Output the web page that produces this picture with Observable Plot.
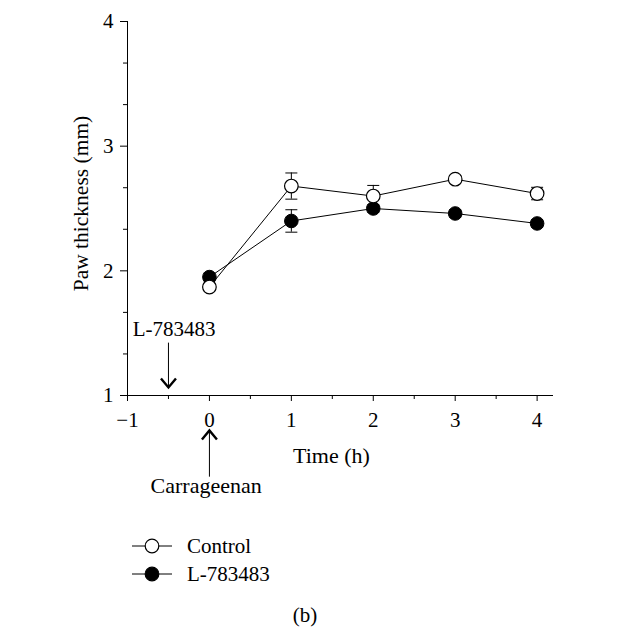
<!DOCTYPE html>
<html>
<head>
<meta charset="utf-8">
<script src="https://cdn.jsdelivr.net/npm/d3@7"></script>
<script src="https://cdn.jsdelivr.net/npm/@observablehq/plot@0.6"></script>
<style>
  html, body { margin: 0; padding: 0; background: #fff; }
  #wrap { position: relative; width: 619px; height: 641px; overflow: hidden; font-family: "Liberation Serif", "Times New Roman", serif; }
  #legend { position: absolute; left: 0; top: 520px; }
</style>
</head>
<body>
<div id="wrap"><div id="chart"></div><div id="legend"></div></div>
<script>
// ---- data ----
const hours = [0, 1, 2, 3, 4];
const controlMean = [1.87, 2.68, 2.60, 2.735, 2.62];
const controlSE = [0.03, 0.105, 0.085, 0.03, 0.05];
const drugMean = [1.95, 2.40, 2.50, 2.46, 2.38];
const drugSE = [0.03, 0.09, 0.03, 0.03, 0.03];
const seriesNames = ["Control", "L-783483"];
const xMajorTicks = [-1, 0, 1, 2, 3, 4];
const xMinorTicks = [-0.5, 0.5, 1.5, 2.5, 3.5];
const yMajorTicks = [1, 2, 3, 4];
const yMinorTicks = [4/3, 5/3, 7/3, 8/3, 10/3, 11/3];
const xTitle = "Time (h)";
const yTitle = "Paw thickness (mm)";
const panelLabel = "(b)";
const annotations = [
  {label: "L-783483", x: -0.5, textX: -0.43, textY: 1.475, yTail: 1.42, yTip: 1.065, dir: "down", size: 21},
  {label: "Carrageenan", x: 0, textX: -0.04, textY: 0.217, yTail: 0.345, yTip: 0.72, dir: "up", size: 22}
];

const control = hours.map((h, i) => ({x: h, y: controlMean[i], se: controlSE[i]}));
const drug = hours.map((h, i) => ({x: h, y: drugMean[i], se: drugSE[i]}));

const FONT = '"Liberation Serif", "Times New Roman", serif';
const intFmt = d => d3.format("d")(d).replace("-", "\u2212");

const capSymbol = {draw(ctx) { ctx.moveTo(-6, 0); ctx.lineTo(6, 0); }};
const chevronDown = {draw(ctx) { ctx.moveTo(-7.5, -9); ctx.lineTo(0, 0); ctx.lineTo(7.5, -9); }};
const chevronUp = {draw(ctx) { ctx.moveTo(-7.5, 9); ctx.lineTo(0, 0); ctx.lineTo(7.5, 9); }};

const errMarks = (data) => [
  Plot.ruleX(data, {x: "x", y1: d => d.y - d.se, y2: d => d.y + d.se, stroke: "black", strokeWidth: 1}),
  Plot.dot(data, {x: "x", y: d => d.y + d.se, symbol: capSymbol, stroke: "black", strokeWidth: 1}),
  Plot.dot(data, {x: "x", y: d => d.y - d.se, symbol: capSymbol, stroke: "black", strokeWidth: 1})
];

const plot = Plot.plot({
  width: 619,
  height: 520,
  marginLeft: 127,
  marginRight: 66,
  marginTop: 21,
  marginBottom: 125,
  style: {fontFamily: FONT, fontSize: "21px", background: "white", color: "black"},
  x: {domain: [-1, 4.2]},
  y: {domain: [1, 4]},
  marks: [
    // axis lines
    Plot.ruleY([1], {stroke: "black", strokeWidth: 1}),
    Plot.ruleX([-1], {y1: 1, y2: 4, stroke: "black", strokeWidth: 1}),
    Plot.axisX(xMajorTicks, {tickSize: 6, tickPadding: 11, fontSize: 21, label: null, stroke: "black", tickFormat: intFmt}),
    Plot.axisX(xMinorTicks, {tickSize: 4, tickFormat: () => "", label: null, stroke: "black"}),
    Plot.axisY(yMajorTicks, {tickSize: 7, tickPadding: 7, fontSize: 21, label: null, stroke: "black", tickFormat: intFmt}),
    Plot.axisY(yMinorTicks, {tickSize: 4, tickFormat: () => "", label: null, stroke: "black"}),
    // axis titles
    Plot.text([xTitle], {frameAnchor: "bottom", text: d => d, dx: -9, dy: 67, lineAnchor: "bottom", fontSize: 22}),
    Plot.text([yTitle], {frameAnchor: "left", text: d => d, rotate: -90, dx: -46, dy: -5, lineAnchor: "middle", textAnchor: "middle", fontSize: 21.5}),
    // annotations
    Plot.ruleX(annotations, {x: "x", y1: "yTail", y2: "yTip", stroke: "black", strokeWidth: 1}),
    Plot.dot(annotations, {x: "x", y: "yTip", symbol: d => d.dir === "down" ? chevronDown : chevronUp, stroke: "black", strokeWidth: 2.4, fill: "none"}),
    Plot.text(annotations.filter(d => d.size === 21), {x: "textX", y: "textY", text: "label", lineAnchor: "bottom", textAnchor: "middle", fontSize: 21}),
    Plot.text(annotations.filter(d => d.size === 22), {x: "textX", y: "textY", text: "label", lineAnchor: "bottom", textAnchor: "middle", fontSize: 22}),
    // data lines
    Plot.line(control, {x: "x", y: "y", stroke: "black", strokeWidth: 1}),
    Plot.line(drug, {x: "x", y: "y", stroke: "black", strokeWidth: 1}),
    ...errMarks(control),
    ...errMarks(drug),
    Plot.dot(drug, {x: "x", y: "y", r: 6.8, fill: "black", stroke: "black", strokeWidth: 1}),
    Plot.dot(control, {x: "x", y: "y", r: 6.8, fill: "white", stroke: "black", strokeWidth: 1.2})
  ]
});
document.getElementById("chart").appendChild(plot);

// ---- legend + panel label ----
const leg = d3.select("#legend").append("svg")
  .attr("width", 619).attr("height", 121)
  .style("font-family", FONT).style("font-size", "21px");
const rows = [{name: seriesNames[0], fill: "white", y: 26}, {name: seriesNames[1], fill: "black", y: 54}];
rows.forEach(r => {
  leg.append("line").attr("x1", 132).attr("x2", 172).attr("y1", r.y).attr("y2", r.y).attr("stroke", "black");
  leg.append("circle").attr("cx", 152).attr("cy", r.y).attr("r", 6.8).attr("fill", r.fill).attr("stroke", "black").attr("stroke-width", 1.2);
  leg.append("text").attr("x", 187).attr("y", r.y + 7).text(r.name);
});
leg.append("text").attr("x", 305).attr("y", 102).attr("text-anchor", "middle").text(panelLabel);
</script>
</body>
</html>
